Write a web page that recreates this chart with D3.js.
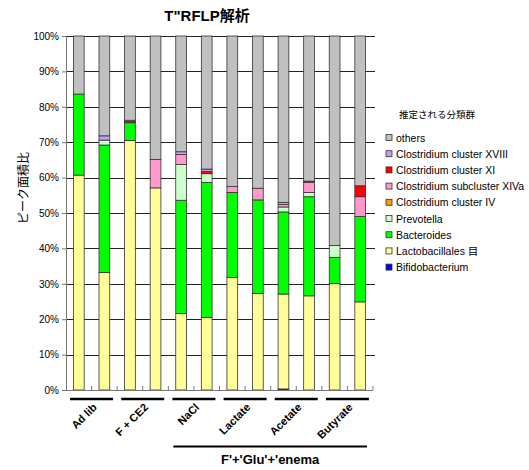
<!DOCTYPE html>
<html>
<head>
<meta charset="utf-8">
<script src="https://cdn.jsdelivr.net/npm/d3@7"></script>
<style>
  body { margin: 0; background: #fff; }
  svg { display: block; }
  text { font-family: "Liberation Sans", "Noto Sans CJK JP", sans-serif; }
</style>
</head>
<body>
<svg id="chart" width="529" height="470"></svg>
<script>
// Samples (two per group), bottom-to-top stacking order of taxa
const samples = ["A1", "A2", "B1", "B2", "C1", "C2", "D1", "D2", "E1", "E2", "F1", "F2"];
const groups = ["Ad lib", "F + CE2", "NaCl", "Lactate", "Acetate", "Butyrate"];
const taxa = [
  "Bifidobacterium", "Lactobacillales 目", "Bacteroides", "Prevotella",
  "Clostridium cluster IV", "Clostridium subcluster XIVa",
  "Clostridium cluster XI", "Clostridium cluster XVIII", "others"
];
const colors = ["#0000ff", "#ffff99", "#00ff00", "#ccffcc", "#ff9900", "#ff99cc", "#ff0000", "#cc99ff", "#c0c0c0"];

// Peak area share (%) per taxon, one value per sample
const bifidobacterium = [0, 0, 0, 0, 0, 0, 0, 0, 0.3, 0, 0, 0];
const lactobacillales = [60.7, 33.2, 70.5, 57.1, 21.6, 20.5, 31.8, 27.3, 26.8, 26.6, 30.1, 24.9];
const bacteroides     = [22.9, 36.0, 5.0, 0, 32.0, 38.1, 24.0, 26.4, 23.2, 28.0, 7.3, 24.1];
const prevotella      = [0, 1.4, 0, 0, 10.1, 2.5, 0, 0, 1.4, 1.2, 3.4, 0];
const clusterIV       = [0, 0, 0, 0, 0, 0, 0, 0, 0, 0, 0, 0];
const subclusterXIVa  = [0, 0, 0, 8.0, 2.8, 0, 1.7, 3.3, 0.7, 2.9, 0, 5.6];
const clusterXI       = [0, 0, 0.3, 0, 0, 0.6, 0, 0, 0, 0.3, 0, 3.1];
const clusterXVIII    = [0, 1.2, 0.4, 0, 0.8, 0.7, 0, 0, 0.6, 0, 0, 0];
const others          = [16.4, 28.2, 23.8, 34.9, 32.7, 37.6, 42.5, 43.0, 47.0, 41.0, 59.2, 42.3];

const series = [bifidobacterium, lactobacillales, bacteroides, prevotella, clusterIV,
                subclusterXIVa, clusterXI, clusterXVIII, others];
const yTicks = d3.range(0, 101, 10);

const rows = samples.map((s, i) => {
  const r = { sample: s };
  taxa.forEach((t, k) => { r[t] = series[k][i]; });
  return r;
});

const svg = d3.select("#chart");
const m = { left: 66, right: 373, top: 36, bottom: 390 };

const x = d3.scaleBand().domain(samples).range([m.left, m.right]).padding(0);
const y = d3.scaleLinear().domain([0, 100]).range([m.bottom, m.top]);
const barW = x.bandwidth() * 0.42;

// Horizontal gridlines
svg.append("g").selectAll("line").data(yTicks.slice(1)).join("line")
  .attr("x1", m.left).attr("x2", m.right + 2)
  .attr("y1", d => Math.round(y(d)) + 0.5).attr("y2", d => Math.round(y(d)) + 0.5)
  .attr("stroke", "#222").attr("stroke-width", 1);

// Stacked bars
const stack = d3.stack().keys(taxa)(rows);
svg.append("g").selectAll("g").data(stack).join("g")
  .attr("fill", (d, i) => colors[i])
  .selectAll("rect").data(d => d.filter(p => p[1] - p[0] > 0)).join("rect")
  .attr("x", d => x(d.data.sample) + x.bandwidth() / 2 - barW / 2)
  .attr("width", barW)
  .attr("y", d => y(d[1]))
  .attr("height", d => y(d[0]) - y(d[1]))
  .attr("stroke", "#333")
  .attr("stroke-width", 0.8);

// Y axis
const yAxis = svg.append("g").attr("transform", `translate(${m.left},0)`)
  .call(d3.axisLeft(y).tickValues(yTicks).tickFormat(d => d + "%").tickSize(4).tickPadding(3));
yAxis.select(".domain").attr("stroke", "#777");
yAxis.selectAll(".tick line").attr("stroke", "#777");
yAxis.selectAll("text").attr("font-size", 10).attr("fill", "#000");

// X axis baseline with inward ticks at sample boundaries
svg.append("line").attr("x1", m.left).attr("x2", m.right)
  .attr("y1", m.bottom + 0.5).attr("y2", m.bottom + 0.5).attr("stroke", "#777");
svg.append("g").selectAll("line").data(samples.slice(1).concat(["end"])).join("line")
  .attr("x1", d => d === "end" ? m.right : x(d))
  .attr("x2", d => d === "end" ? m.right : x(d))
  .attr("y1", m.bottom).attr("y2", m.bottom - 4)
  .attr("stroke", "#777");

// Group labels with underlines
const groupW = x.step() * 2;
groups.forEach((g, i) => {
  const cx = m.left + groupW * i + groupW / 2;
  svg.append("line").attr("x1", cx - 21.5).attr("x2", cx + 21.5)
    .attr("y1", 399).attr("y2", 399).attr("stroke", "#000").attr("stroke-width", 2.5);
  svg.append("text")
    .attr("transform", `translate(${cx + 6},${408}) rotate(-45)`)
    .attr("text-anchor", "end")
    .attr("font-size", 11).attr("font-weight", "bold")
    .text(g);
});

// Enema bracket
const e0 = m.left + groupW * 2 + 5, e1 = m.right - 6;
svg.append("line").attr("x1", e0).attr("x2", e1).attr("y1", 446.5).attr("y2", 446.5)
  .attr("stroke", "#000").attr("stroke-width", 2);
svg.append("text").attr("x", (e0 + e1) / 2).attr("y", 464)
  .attr("text-anchor", "middle").attr("font-size", 13).attr("font-weight", "bold")
  .text("F'+'Glu'+'enema");

// Title
svg.append("text").attr("x", 207).attr("y", 21).attr("text-anchor", "middle")
  .attr("font-size", 15).attr("font-weight", "bold").text('T"RFLP解析');

// Y axis title
svg.append("text").attr("transform", "translate(28,188) rotate(-90)")
  .attr("text-anchor", "middle").attr("font-size", 12)
  .attr("font-family", "'Noto Sans CJK JP', sans-serif").text("ピーク面積比");

// Legend
svg.append("text").attr("x", 437).attr("y", 118).attr("text-anchor", "middle")
  .attr("font-size", 9.5).attr("font-family", "'Noto Sans CJK JP', sans-serif")
  .text("推定される分類群");
const legendItems = taxa.map((t, i) => ({ t, c: colors[i] })).reverse();
const lg = svg.append("g").selectAll("g").data(legendItems).join("g")
  .attr("transform", (d, i) => `translate(386,${138 + i * 16.2})`);
lg.append("rect").attr("x", 0).attr("y", -3.5).attr("width", 6).attr("height", 6)
  .attr("fill", d => d.c).attr("stroke", "#333").attr("stroke-width", 0.8);
lg.append("text").attr("x", 10).attr("y", 0).attr("dy", "0.35em")
  .attr("font-size", 10.5).attr("font-family", "'Noto Sans CJK JP', sans-serif")
  .text(d => d.t);
</script>
</body>
</html>
